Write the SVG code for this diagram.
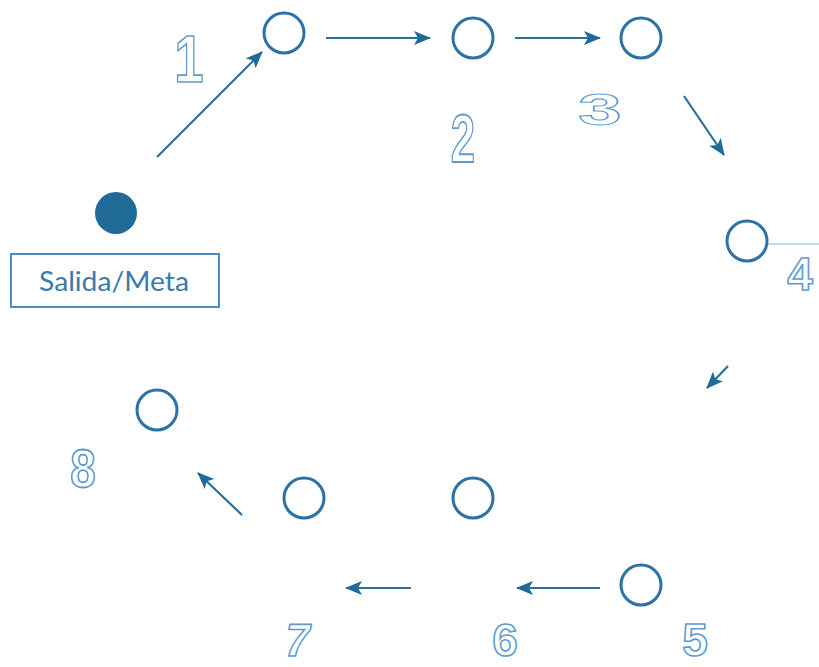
<svg xmlns="http://www.w3.org/2000/svg" width="819" height="667" viewBox="0 0 819 667">
<style>
.node{fill:#fff;stroke:#2b72a6;stroke-width:3}
.num{font-family:"Liberation Sans",Arial,sans-serif;font-weight:bold;font-size:46px;fill:#fff;stroke:#5f9bcf;stroke-width:1.6;text-anchor:middle}
.con{stroke:#2b6f9f;stroke-width:2.2;fill:none;marker-end:url(#ah)}
</style>
<defs>
<marker id="ah" markerUnits="userSpaceOnUse" markerWidth="20" markerHeight="16" refX="16" refY="7" orient="auto">
<path d="M0,0 L17,7 L0,14 L4,7 Z" fill="#1f6a9a"/>
</marker>
</defs>
<rect width="819" height="667" fill="#fff"/>
<g id="connectors">
<line class="con" x1="157" y1="157" x2="262" y2="52"/>
<line class="con" x1="326" y1="38" x2="430" y2="38"/>
<line class="con" x1="515" y1="38" x2="600" y2="38"/>
<line class="con" x1="684" y1="96" x2="724" y2="155"/>
<line class="con" x1="728" y1="366" x2="707" y2="388"/>
<line class="con" x1="600" y1="588" x2="517" y2="588"/>
<line class="con" x1="411" y1="588" x2="346" y2="588"/>
<line class="con" x1="242" y1="515" x2="198" y2="473"/>
<line x1="767" y1="244" x2="819" y2="244" stroke="#8ab6dc" stroke-width="1.2"/>
</g>
<g id="start">
<circle cx="116" cy="213" r="21" fill="#1f6a96"/>
<rect x="11" y="254" width="208" height="53" fill="#fff" stroke="#4d8cc0" stroke-width="2"/>
<text x="114" y="291" font-family="Lato,'Open Sans',sans-serif" font-size="26" fill="#3a7aab" text-anchor="middle" textLength="150" lengthAdjust="spacingAndGlyphs">Salida/Meta</text>
</g>
<g id="n1">
<circle class="node" cx="284" cy="33" r="20"/>
<text class="num" transform="translate(189,82) scale(0.8,1)" style="font-size:66px;stroke-width:1.6">1</text>
</g>
<g id="n2">
<circle class="node" cx="473" cy="38" r="20"/>
<text class="num" transform="translate(463,162) scale(0.95,1.5)" style="stroke-width:1.2">2</text>
</g>
<g id="n3">
<circle class="node" cx="641" cy="38" r="20"/>
<text class="num" transform="translate(600,125) scale(1.7,0.95)" style="stroke-width:1.1">3</text>
</g>
<g id="n4">
<circle class="node" cx="747" cy="241" r="20"/>
<text class="num" x="800" y="290">4</text>
</g>
<g id="n5">
<circle class="node" cx="641" cy="585" r="20"/>
<text class="num" x="695" y="656">5</text>
</g>
<g id="n6">
<circle class="node" cx="473" cy="498" r="20"/>
<text class="num" x="505" y="656">6</text>
</g>
<g id="n7">
<circle class="node" cx="304" cy="498" r="20"/>
<text class="num" transform="translate(295,656) skewX(-10)">7</text>
</g>
<g id="n8">
<circle class="node" cx="157" cy="410" r="20"/>
<text class="num" transform="translate(83,487) scale(1,1.15)">8</text>
</g>
</svg>
